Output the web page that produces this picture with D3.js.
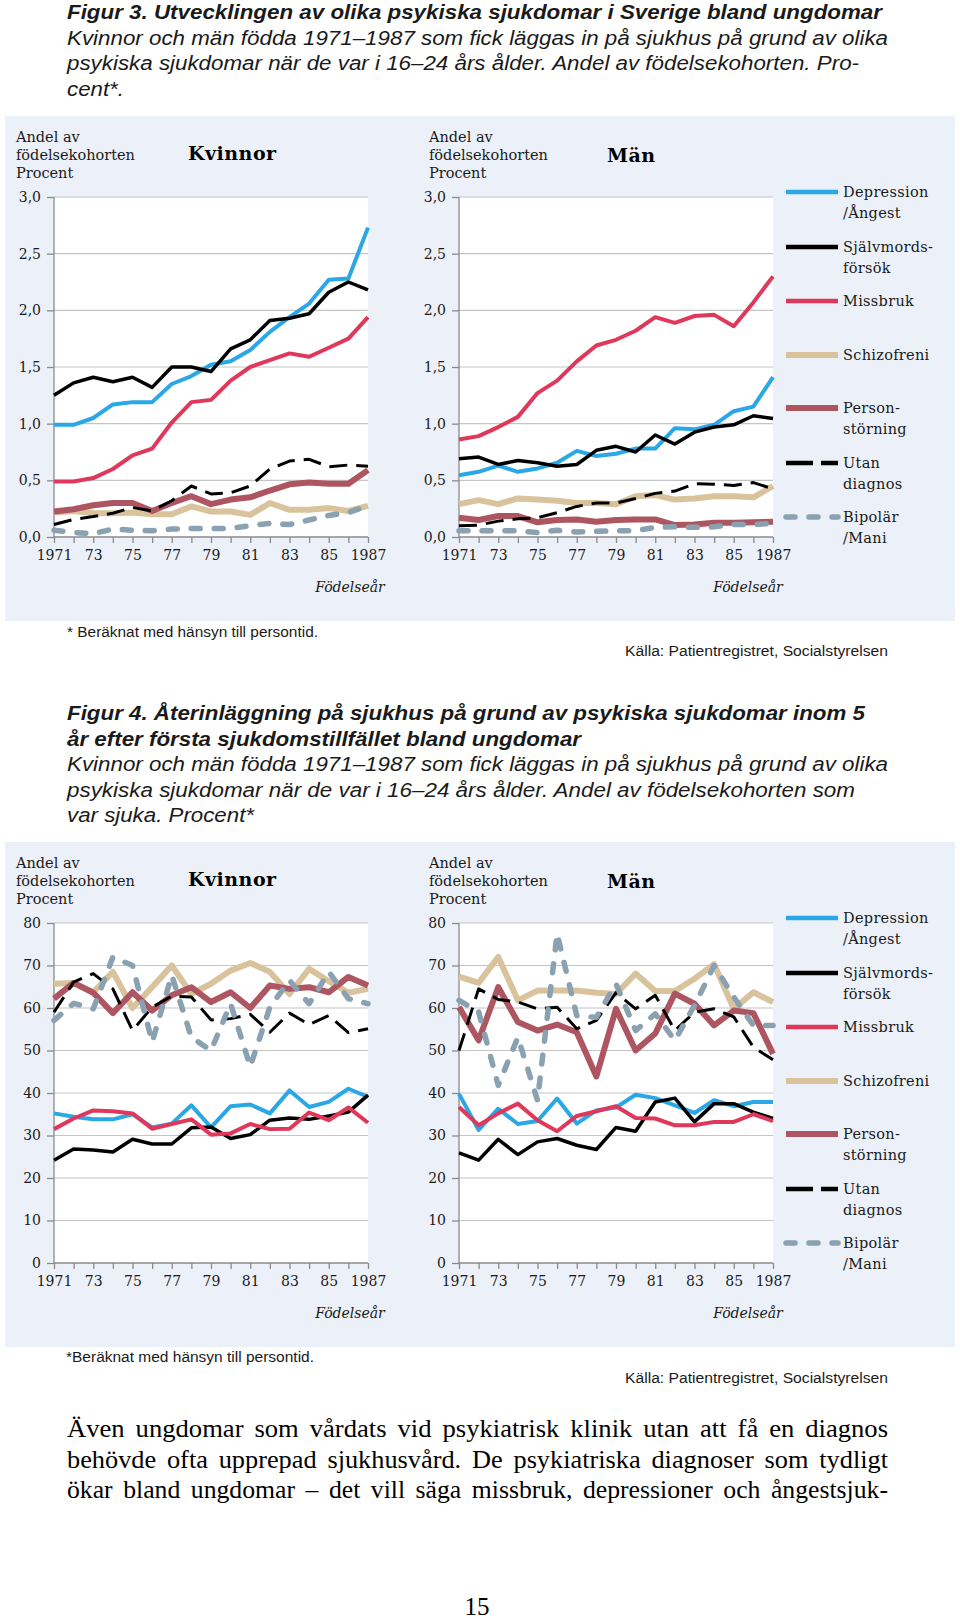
<!DOCTYPE html>
<html>
<head>
<meta charset="utf-8">
<script src="https://cdn.jsdelivr.net/npm/d3@7"></script>
<style>
  body { margin: 0; background: #fff; }
  svg { display: block; }
</style>
</head>
<body>
<svg></svg>
<script>
// ---- data -------------------------------------------------------------
var years = [1971, 1972, 1973, 1974, 1975, 1976, 1977, 1978, 1979, 1980, 1981, 1982, 1983, 1984, 1985, 1986, 1987];
var yearLabels = ['1971', '', '73', '', '75', '', '77', '', '79', '', '81', '', '83', '', '85', '', '1987'];

var fig3Ticks = [0, 0.5, 1, 1.5, 2, 2.5, 3];
var fig3TickLabels = ['0,0', '0,5', '1,0', '1,5', '2,0', '2,5', '3,0'];
var fig4Ticks = [0, 10, 20, 30, 40, 50, 60, 70, 80];
var fig4TickLabels = ['0', '10', '20', '30', '40', '50', '60', '70', '80'];

var seriesNames = [['Depression', '/Ångest'], ['Självmords-', 'försök'], ['Missbruk'], ['Schizofreni'],
                   ['Person-', 'störning'], ['Utan', 'diagnos'], ['Bipolär', '/Mani']];

// Figur 3, Kvinnor
var kvDep3   = [0.99, 0.99, 1.05, 1.17, 1.19, 1.19, 1.35, 1.42, 1.52, 1.55, 1.65, 1.81, 1.94, 2.06, 2.27, 2.28, 2.73];
var kvSjalv3 = [1.25, 1.36, 1.41, 1.37, 1.41, 1.32, 1.50, 1.50, 1.46, 1.66, 1.74, 1.91, 1.93, 1.97, 2.16, 2.25, 2.18];
var kvMiss3  = [0.49, 0.49, 0.52, 0.60, 0.72, 0.78, 1.01, 1.19, 1.21, 1.38, 1.50, 1.56, 1.62, 1.59, 1.67, 1.75, 1.94];
var kvSchiz3 = [0.215, 0.23, 0.21, 0.21, 0.215, 0.20, 0.20, 0.27, 0.225, 0.225, 0.195, 0.30, 0.24, 0.24, 0.255, 0.23, 0.275];
var kvPers3  = [0.225, 0.245, 0.28, 0.30, 0.30, 0.23, 0.30, 0.36, 0.29, 0.33, 0.35, 0.41, 0.465, 0.48, 0.47, 0.47, 0.59];
var kvUtan3  = [0.11, 0.155, 0.18, 0.21, 0.26, 0.23, 0.32, 0.45, 0.38, 0.39, 0.45, 0.60, 0.67, 0.685, 0.62, 0.635, 0.625];
var kvBip3   = [0.06, 0.04, 0.03, 0.07, 0.06, 0.055, 0.07, 0.075, 0.075, 0.075, 0.10, 0.12, 0.11, 0.15, 0.19, 0.215, 0.275];

// Figur 3, Män
var mDep3   = [0.545, 0.575, 0.63, 0.575, 0.605, 0.655, 0.76, 0.715, 0.735, 0.78, 0.78, 0.96, 0.95, 0.99, 1.11, 1.15, 1.41];
var mSjalv3 = [0.69, 0.705, 0.64, 0.675, 0.655, 0.625, 0.64, 0.765, 0.80, 0.75, 0.90, 0.82, 0.925, 0.97, 0.99, 1.07, 1.045];
var mMiss3  = [0.86, 0.89, 0.97, 1.06, 1.27, 1.38, 1.55, 1.69, 1.74, 1.82, 1.94, 1.89, 1.95, 1.96, 1.86, 2.07, 2.30];
var mSchiz3 = [0.29, 0.325, 0.29, 0.34, 0.33, 0.32, 0.30, 0.30, 0.29, 0.36, 0.37, 0.33, 0.34, 0.36, 0.36, 0.35, 0.45];
var mPers3  = [0.17, 0.15, 0.185, 0.185, 0.13, 0.15, 0.155, 0.135, 0.15, 0.155, 0.155, 0.105, 0.11, 0.125, 0.125, 0.13, 0.135];
var mUtan3  = [0.10, 0.105, 0.14, 0.16, 0.17, 0.215, 0.27, 0.30, 0.30, 0.34, 0.385, 0.405, 0.47, 0.465, 0.455, 0.48, 0.425];
var mBip3   = [0.055, 0.055, 0.055, 0.055, 0.04, 0.06, 0.045, 0.05, 0.055, 0.055, 0.085, 0.09, 0.085, 0.09, 0.11, 0.11, 0.12];

// Figur 4, Kvinnor
var kvDep4   = [35.2, 34.4, 33.8, 33.8, 35.0, 31.9, 32.8, 37.1, 31.9, 36.9, 37.3, 35.2, 40.6, 36.7, 37.9, 41.0, 39.1];
var kvSjalv4 = [24.2, 26.8, 26.6, 26.1, 29.1, 28.0, 28.0, 31.8, 32.0, 29.3, 30.2, 33.6, 34.1, 33.8, 34.6, 35.5, 39.5];
var kvMiss4  = [31.5, 34.0, 35.9, 35.7, 35.2, 31.6, 32.7, 33.8, 30.2, 30.5, 32.7, 31.5, 31.6, 35.4, 33.6, 36.6, 33.0];
var kvSchiz4 = [65.7, 65.9, 63.7, 68.5, 60.0, 64.9, 70.0, 63.3, 65.7, 68.8, 70.6, 68.5, 63.3, 69.2, 66.3, 63.6, 64.5];
var kvPers4  = [62.2, 65.9, 63.6, 58.8, 63.7, 59.4, 63.0, 64.9, 61.4, 63.7, 60.0, 65.3, 64.5, 64.9, 63.7, 67.3, 65.3];
var kvUtan4  = [59.0, 66.1, 68.1, 64.5, 54.7, 60.2, 62.8, 62.6, 57.2, 57.5, 58.5, 54.3, 58.8, 56.1, 58.2, 54.2, 55.1];
var kvBip4   = [57.1, 61.1, 59.8, 72.0, 70.0, 52.0, 67.7, 53.1, 50.0, 61.0, 46.2, 60.2, 66.5, 61.0, 68.5, 62.2, 61.0];

// Figur 4, Män
var mDep4   = [39.8, 31.3, 36.3, 32.7, 33.4, 38.7, 32.8, 35.9, 36.6, 39.6, 38.8, 37.1, 35.3, 38.3, 36.9, 37.9, 37.9];
var mSjalv4 = [25.9, 24.2, 29.1, 25.5, 28.5, 29.3, 27.7, 26.7, 31.9, 31.0, 37.9, 38.8, 33.2, 37.5, 37.5, 35.5, 34.0];
var mMiss4  = [36.7, 32.4, 35.2, 37.5, 33.6, 31.0, 34.6, 35.7, 36.9, 34.1, 34.0, 32.4, 32.4, 33.2, 33.2, 35.0, 33.4];
var mSchiz4 = [67.4, 65.9, 72.0, 61.8, 64.1, 64.1, 64.1, 63.6, 63.3, 68.1, 64.0, 64.0, 66.9, 70.3, 59.8, 63.7, 61.4];
var mPers4  = [60.2, 52.4, 64.9, 56.7, 54.7, 56.1, 54.3, 43.9, 59.8, 50.0, 54.0, 63.4, 61.0, 55.9, 59.4, 58.8, 49.2];
var mUtan4  = [50.0, 64.5, 62.0, 61.4, 59.8, 60.2, 55.1, 57.1, 63.6, 59.8, 63.0, 54.7, 59.0, 59.8, 57.9, 50.8, 47.8];
var mBip4   = [61.8, 59.1, 41.8, 53.1, 38.3, 77.5, 58.2, 57.8, 65.7, 54.7, 58.6, 52.4, 60.6, 70.0, 62.6, 55.9, 55.9];

var fig3Title = [
  'Figur 3. Utvecklingen av olika psykiska sjukdomar i Sverige bland ungdomar',
  'Kvinnor och män födda 1971–1987 som fick läggas in på sjukhus på grund av olika',
  'psykiska sjukdomar när de var i 16–24 års ålder. Andel av födelsekohorten. Pro-',
  'cent*.'
];
var fig4Title = [
  'Figur 4. Återinläggning på sjukhus på grund av psykiska sjukdomar inom 5',
  'år efter första sjukdomstillfället bland ungdomar',
  'Kvinnor och män födda 1971–1987 som fick läggas in på sjukhus på grund av olika',
  'psykiska sjukdomar när de var i 16–24 års ålder. Andel av födelsekohorten som',
  'var sjuka. Procent*'
];
var bodyLines = [
  'Även ungdomar som vårdats vid psykiatrisk klinik utan att få en diagnos',
  'behövde ofta upprepad sjukhusvård. De psykiatriska diagnoser som tydligt',
  'ökar bland ungdomar – det vill säga missbruk, depressioner och ångestsjuk-'
];

// ---- styles -----------------------------------------------------------
var styles = [
  {color: '#2aa7e6', width: 4},
  {color: '#000000', width: 3.5},
  {color: '#e0385a', width: 4},
  {color: '#d8c39c', width: 6},
  {color: '#ad5661', width: 6},
  {color: '#000000', width: 3, dash: '18,9', legendDash: '27,8'},
  {color: '#8aa1b1', width: 5.5, dash: '9,14', cap: 'round'}
];

var serif = '"DejaVu Serif", serif';
var sans = '"Liberation Sans", Arial, sans-serif';
var bg = '#ecf1f9';
var ink = '#1a1a1a';

var svg = d3.select('svg').attr('width', 960).attr('height', 1619);

// ---- page text --------------------------------------------------------
function titleBlock(lines, baselines, widths, boldCount) {
  lines.forEach(function(t, i) {
    svg.append('text')
      .attr('x', 67).attr('y', baselines[i])
      .attr('textLength', widths[i]).attr('lengthAdjust', 'spacingAndGlyphs')
      .style('font-family', sans).style('font-size', '20px')
      .style('font-style', 'italic').style('font-weight', i < boldCount ? 'bold' : 'normal')
      .attr('fill', ink).text(t);
  });
}
titleBlock(fig3Title, [19, 45, 70, 96], [815, 821, 792, 57], 1);
titleBlock(fig4Title, [720, 746, 771, 797, 822], [798, 514, 821, 788, 187], 2);

function note(txt, x, y, w) {
  svg.append('text').attr('x', x).attr('y', y)
    .attr('textLength', w).attr('lengthAdjust', 'spacingAndGlyphs')
    .style('font-family', sans).style('font-size', '14px')
    .attr('fill', ink).text(txt);
}
note('* Beräknat med hänsyn till persontid.', 67, 637, 251);
note('Källa: Patientregistret, Socialstyrelsen', 625, 656, 263);
note('*Beräknat med hänsyn till persontid.', 66, 1362, 248);
note('Källa: Patientregistret, Socialstyrelsen', 625, 1383, 263);

// justified body text: slightly wider word gaps, then fitted to the column
bodyLines.forEach(function(t, i) {
  svg.append('text').attr('x', 67).attr('y', 1437 + i * 30.5)
    .attr('word-spacing', 4)
    .attr('textLength', 821).attr('lengthAdjust', 'spacingAndGlyphs')
    .style('font-family', '"Liberation Serif", "Times New Roman", serif').style('font-size', '25px')
    .attr('fill', '#000').text(t);
});
svg.append('text').attr('x', 477).attr('y', 1615).attr('text-anchor', 'middle')
  .style('font-family', '"Liberation Serif", serif').style('font-size', '25px')
  .attr('fill', '#000').text('15');

// ---- charts -----------------------------------------------------------
function drawChart(panel, cfg) {
  var x = d3.scaleLinear().domain([1971, 1987]).range([cfg.x0, cfg.x0 + 314]);
  var y = d3.scaleLinear().domain([0, cfg.ticks[cfg.ticks.length - 1]]).range([421, 81]);
  var g = panel.append('g');

  g.append('rect').attr('x', cfg.x0).attr('y', 81).attr('width', 314).attr('height', 340).attr('fill', '#fff');

  g.selectAll('.grid').data(cfg.ticks.slice(1)).join('line')
    .attr('x1', cfg.x0).attr('x2', cfg.x0 + 314)
    .attr('y1', d => y(d)).attr('y2', d => y(d))
    .attr('stroke', '#c4c4c4').attr('stroke-width', 1.2);

  var yAxis = g.append('g').attr('transform', 'translate(' + cfg.x0 + ',0)')
    .call(d3.axisLeft(y).tickValues(cfg.ticks).tickFormat((d, i) => cfg.tickLabels[i]).tickSize(7).tickPadding(6));
  var xAxis = g.append('g').attr('transform', 'translate(0,421)')
    .call(d3.axisBottom(x).tickValues(years).tickFormat((d, i) => yearLabels[i]).tickSize(6).tickPadding(7));
  [yAxis, xAxis].forEach(function(a) {
    a.selectAll('path, line').attr('stroke', '#8a8a8a').attr('stroke-width', 1.3);
    a.selectAll('text').style('font-family', serif).style('font-size', '14px').attr('fill', ink);
  });
  yAxis.select('.domain').attr('d', 'M0,81V421');
  xAxis.select('.domain').attr('d', 'M' + cfg.x0 + ',0H' + (cfg.x0 + 314));

  var line = d3.line().x((d, i) => x(years[i])).y(d => y(d));
  g.selectAll('.series').data(cfg.series).join('path')
    .attr('d', d => line(d))
    .attr('fill', 'none')
    .attr('stroke', (d, i) => styles[i].color)
    .attr('stroke-width', (d, i) => styles[i].width)
    .attr('stroke-dasharray', (d, i) => styles[i].dash || null)
    .attr('stroke-linecap', (d, i) => styles[i].cap || 'butt')
    .attr('stroke-linejoin', 'round');

  var lbl = g.append('text')
    .style('font-family', serif).style('font-size', '14.5px').attr('fill', ink);
  ['Andel av', 'födelsekohorten', 'Procent'].forEach(function(t, i) {
    lbl.append('tspan').attr('x', cfg.labelX).attr('y', 26 + i * 18).text(t);
  });
  g.append('text').attr('x', cfg.titleX).attr('y', cfg.titleY)
    .style('font-family', serif).style('font-size', '19px').style('font-weight', 'bold')
    .style('letter-spacing', '0.5px').attr('fill', '#000').text(cfg.title);
  g.append('text').attr('x', cfg.xTitleX).attr('y', 476).attr('text-anchor', 'middle')
    .style('font-family', serif).style('font-size', '14px').style('font-style', 'italic')
    .attr('fill', ink).text('Födelseår');
}

function drawLegend(panel) {
  var ys = [76, 131, 185, 239, 292, 347, 401];
  var items = panel.selectAll('.legend').data(seriesNames).join('g')
    .attr('transform', (d, i) => 'translate(0,' + ys[i] + ')');
  items.append('line').attr('x1', 786).attr('x2', 838).attr('y1', 0).attr('y2', 0)
    .attr('stroke', (d, i) => styles[i].color)
    .attr('stroke-width', (d, i) => Math.max(styles[i].width, 4.5))
    .attr('stroke-dasharray', (d, i) => styles[i].legendDash || styles[i].dash || null)
    .attr('stroke-linecap', (d, i) => styles[i].cap || 'butt');
  items.append('text')
    .style('font-family', serif).style('font-size', '14.5px').style('letter-spacing', '0.3px')
    .attr('fill', ink)
    .selectAll('tspan').data(d => d).join('tspan')
    .attr('x', 843).attr('y', (d, j) => 5 + j * 21).text(d => d);
}

function drawPanel(top, ticks, tickLabels, kvSeries, mSeries) {
  var panel = svg.append('g').attr('transform', 'translate(0,' + top + ')');
  panel.append('rect').attr('x', 5).attr('y', 0).attr('width', 950).attr('height', 505).attr('fill', bg);
  drawChart(panel, {x0: 54, labelX: 16, title: 'Kvinnor', titleX: 188, titleY: 44, xTitleX: 350,
                    ticks: ticks, tickLabels: tickLabels, series: kvSeries});
  drawChart(panel, {x0: 459, labelX: 429, title: 'Män', titleX: 607, titleY: 46, xTitleX: 748,
                    ticks: ticks, tickLabels: tickLabels, series: mSeries});
  drawLegend(panel);
}

drawPanel(116, fig3Ticks, fig3TickLabels,
  [kvDep3, kvSjalv3, kvMiss3, kvSchiz3, kvPers3, kvUtan3, kvBip3],
  [mDep3, mSjalv3, mMiss3, mSchiz3, mPers3, mUtan3, mBip3]);
drawPanel(842, fig4Ticks, fig4TickLabels,
  [kvDep4, kvSjalv4, kvMiss4, kvSchiz4, kvPers4, kvUtan4, kvBip4],
  [mDep4, mSjalv4, mMiss4, mSchiz4, mPers4, mUtan4, mBip4]);
</script>
</body>
</html>
